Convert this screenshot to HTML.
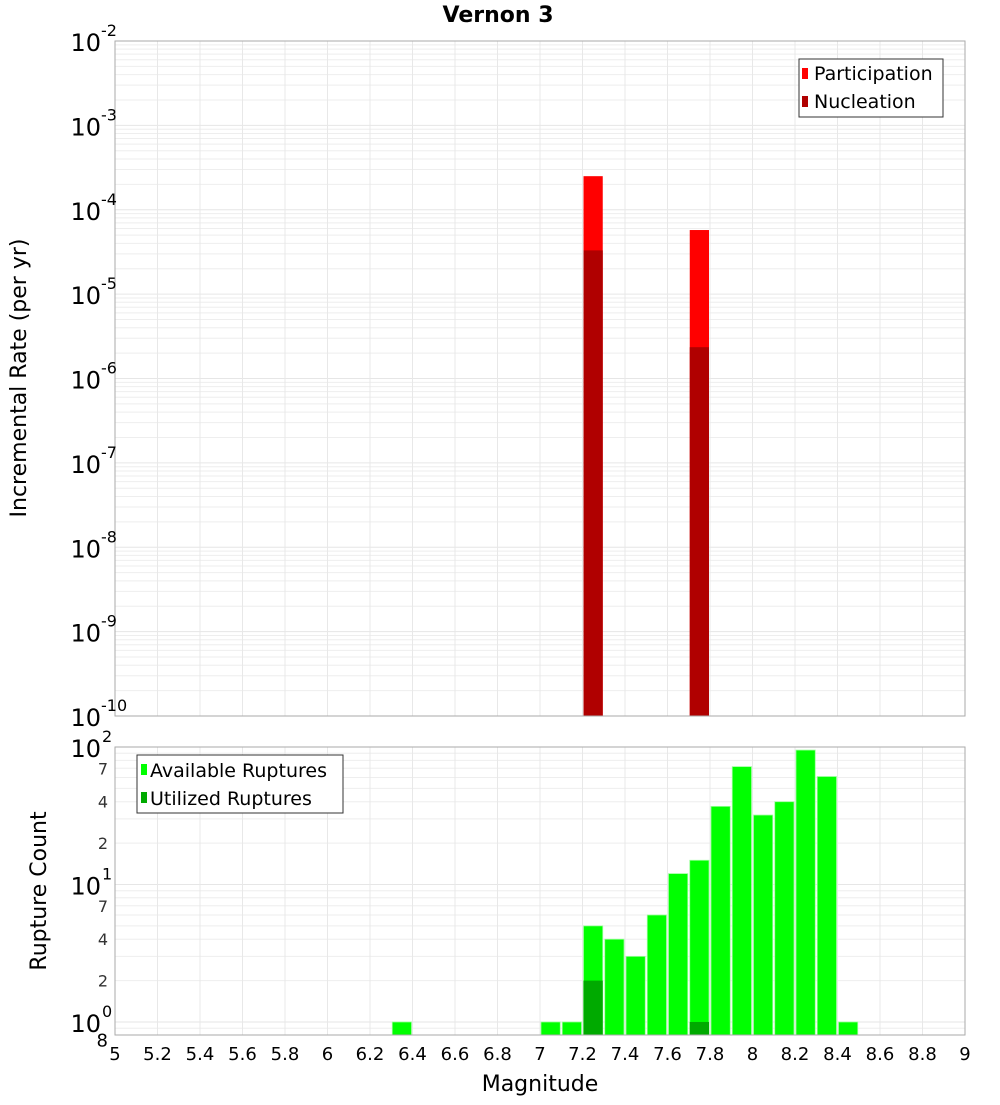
<!DOCTYPE html>
<html><head><meta charset="utf-8"><style>
html,body{margin:0;padding:0;background:#fff;}
svg text{font-family:"DejaVu Sans","Liberation Sans",sans-serif;}
</style></head><body>
<svg id="chart" width="1000" height="1100" viewBox="0 0 1000 1100" xmlns="http://www.w3.org/2000/svg">
<rect x="0" y="0" width="1000" height="1100" fill="#fff"/>
<text x="498" y="22" text-anchor="middle" font-size="22" font-weight="bold">Vernon 3</text>
<g id="gtop"></g>
<g id="gbot"></g>
<text transform="translate(26,378) rotate(-90)" text-anchor="middle" font-size="22">Incremental Rate (per yr)</text>
<text transform="translate(46,891) rotate(-90)" text-anchor="middle" font-size="22">Rupture Count</text>
<text x="540" y="1091" text-anchor="middle" font-size="22">Magnitude</text>
</svg>
<script>
// data
const rateBins = [7.25, 7.75];
const participation = [2.5e-4, 5.75e-5];
const nucleation = [3.3e-5, 2.35e-6];
const countBins = [6.35, 7.05, 7.15, 7.25, 7.35, 7.45, 7.55, 7.65, 7.75, 7.85, 7.95, 8.05, 8.15, 8.25, 8.35, 8.45];
const available = [1, 1, 1, 5, 4, 3, 6, 12, 15, 37, 72, 32, 40, 95, 61, 1];
const utilizedBins = [7.25, 7.75];
const utilized = [2, 1];
const xTicks = [5,5.2,5.4,5.6,5.8,6,6.2,6.4,6.6,6.8,7,7.2,7.4,7.6,7.8,8,8.2,8.4,8.6,8.8,9];
const topExps = [-2,-3,-4,-5,-6,-7,-8,-9,-10];
const botExps = [2,1,0];
const botMinorLabels = [2,4,7];

const NS='http://www.w3.org/2000/svg';
const L=115,R=965;
const T1=41,B1=716,T2=747,B2=1035;
const xs=m=>L+(m-5)/4*(R-L);
const yTop=v=>T1+(-2-Math.log10(v))/8*(B1-T1);
const botMin=0.804, botMax=100;
const yBot=v=>T2+(Math.log10(botMax)-Math.log10(v))/(Math.log10(botMax)-Math.log10(botMin))*(B2-T2);
function el(p,tag,a,txt){const e=document.createElementNS(NS,tag);for(const k in a)e.setAttribute(k,a[k]);if(txt!==undefined)e.textContent=txt;p.appendChild(e);return e;}
const gTop=document.getElementById('gtop'), gBot=document.getElementById('gbot');

function grid(g,T,B,yf,lo,hi){
  for(let d=lo;d<hi;d++){for(let k=1;k<10;k++){const v=k*Math.pow(10,d);const y=yf(v);if(y<T-0.1||y>B+0.1)continue;
    const ln=el(g,'line',{x1:L,x2:R,y1:y,y2:y,stroke:k==1?'#e6e6e6':'#eeeeee','stroke-width':1});
    
    }}
  xTicks.forEach(m=>{const x=xs(m);const ln=el(g,'line',{x1:x,x2:x,y1:T,y2:B,stroke:'#e8e8e8','stroke-width':1});
    
    });
}
// top plot
grid(gTop,T1,B1,yTop,-10,-1);
const bw=21.25;
rateBins.forEach((m,i)=>{
  const x=xs(m)-bw/2+1;
  const r=el(gTop,'rect',{x:x,y:yTop(participation[i]),width:bw-2,height:B1-yTop(participation[i]),fill:'#ff0000'});
  
  
  const n=el(gTop,'rect',{x:x,y:yTop(nucleation[i]),width:bw-2,height:B1-yTop(nucleation[i]),fill:'#b00000'});
  
  
});
el(gTop,'rect',{x:L,y:T1,width:R-L,height:B1-T1,fill:'none',stroke:'#aaa','stroke-width':1});
topExps.forEach(e=>{const y=yTop(Math.pow(10,e));
  const t=el(gTop,'text',{x:101,y:y+10,'text-anchor':'end','font-size':24},'10');
  
  
  const s=el(gTop,'text',{x:101,y:y-5,'font-size':16},String(e));
  
  
});
// top legend
const lg=el(gTop,'g',{});


el(lg,'rect',{x:799,y:59,width:144,height:58,fill:'#fff',stroke:'#333','stroke-width':1});
el(lg,'rect',{x:802,y:68,width:6,height:11,fill:'#ff0000'});
el(lg,'text',{x:814,y:80,'font-size':19},'Participation');
el(lg,'rect',{x:802,y:96,width:6,height:11,fill:'#b00000'});
el(lg,'text',{x:814,y:108,'font-size':19},'Nucleation');

// bottom plot
grid(gBot,T2,B2,yBot,-1,2);
countBins.forEach((m,i)=>{
  const x=xs(m)-bw/2+1;const y=yBot(available[i]);
  const r=el(gBot,'rect',{x:x,y:y,width:bw-2,height:B2-y,fill:'#00ff00',stroke:'#9dff9d','stroke-width':0.8});
  
  
});
utilizedBins.forEach((m,i)=>{
  const x=xs(m)-bw/2+1;const y=yBot(utilized[i]);
  const r=el(gBot,'rect',{x:x,y:y,width:bw-2,height:B2-y,fill:'#00aa00'});
  
  
});
el(gBot,'rect',{x:L,y:T2,width:R-L,height:B2-T2,fill:'none',stroke:'#aaa','stroke-width':1});
botExps.forEach(e=>{const y=yBot(Math.pow(10,e));
  const t=el(gBot,'text',{x:101,y:y+10,'text-anchor':'end','font-size':24},'10');
  
  
  const s=el(gBot,'text',{x:102,y:y-5,'font-size':16},String(e));
  
  
});
[0,1].forEach(d=>botMinorLabels.forEach(k=>{const y=yBot(k*Math.pow(10,d));
  const t=el(gBot,'text',{x:108,y:y+6,'text-anchor':'end','font-size':16,fill:'#333'},String(k));
  
  
}));
{const t=el(gBot,'text',{x:108,y:yBot(0.8)+11,'text-anchor':'end','font-size':18},'8');
  
  }
xTicks.forEach(m=>{
  const t=el(gBot,'text',{x:xs(m),y:1060,'text-anchor':'middle','font-size':18},String(m));
  
  
});
const lg2=el(gBot,'g',{});


el(lg2,'rect',{x:137,y:755,width:206,height:58,fill:'#fff',stroke:'#333','stroke-width':1});
el(lg2,'rect',{x:141,y:764,width:6,height:11,fill:'#00ff00'});
el(lg2,'text',{x:150,y:777,'font-size':19},'Available Ruptures');
el(lg2,'rect',{x:141,y:792,width:6,height:11,fill:'#00aa00'});
el(lg2,'text',{x:150,y:805,'font-size':19},'Utilized Ruptures');
</script>
</body></html>
